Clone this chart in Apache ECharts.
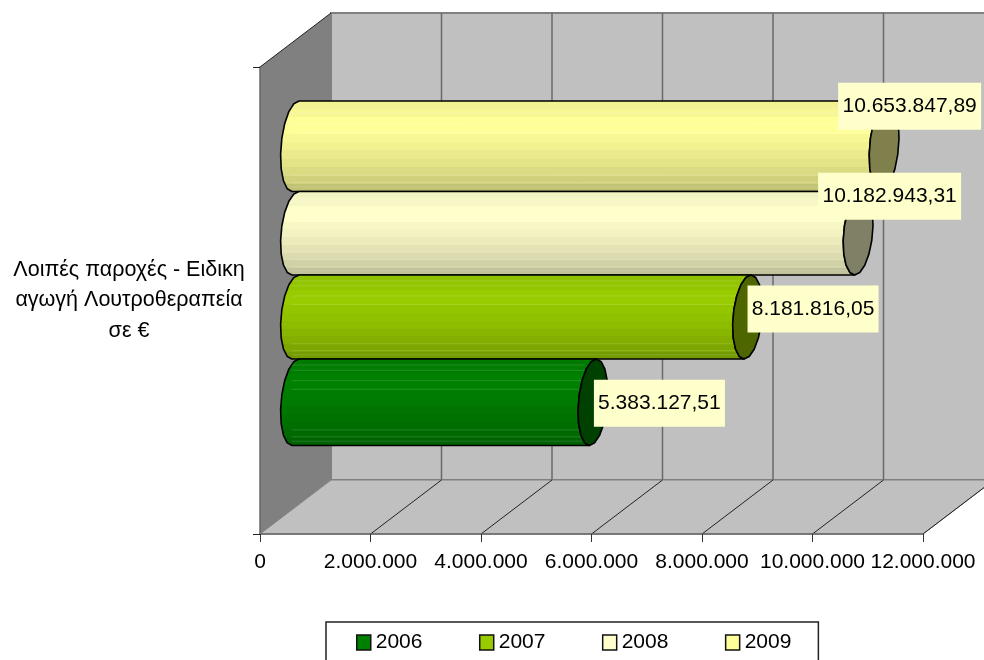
<!DOCTYPE html>
<html>
<head>
<meta charset="utf-8">
<style>html,body{margin:0;padding:0;background:#fff}#chart{width:984px;height:660px}</style>
<script src="https://cdn.jsdelivr.net/npm/echarts@6/dist/echarts.min.js"></script>
</head>
<body>
<div id="chart"></div>
<script>
// Benefit totals per year, in euro
const years = ['2006', '2007', '2008', '2009'];
const amounts = [5383127.51, 8181816.05, 10182943.31, 10653847.89];
const amountLabels = ['5.383.127,51', '8.181.816,05', '10.182.943,31', '10.653.847,89'];
const baseColors = ['#008000', '#99cc00', '#ffffcc', '#ffff99'];
const categories = ['Λοιπές παροχές - Ειδικη\nαγωγή Λουτροθεραπεία\nσε €'];
const xTicks = [0, 2000000, 4000000, 6000000, 8000000, 10000000, 12000000];
const xTickLabels = ['0', '2.000.000', '4.000.000', '6.000.000', '8.000.000', '10.000.000', '12.000.000'];

// Oblique projection of the 3D box
const DEPTH_X = 71, DEPTH_Y = -54;
const FONT = '"Liberation Sans", Arial, sans-serif';
const FONT_SIZE = 21;

// Vertical extent of each cylinder inside the category band, as a fraction of its height
const barSpans = [[0.6831, 0.8683], [0.5032, 0.6831], [0.3244, 0.5032], [0.1306, 0.3244]];
// Label box centre, relative to the end of the cylinder
const labelShift = [[66.5, 1], [65.5, -8], [31.5, -37], [25.5, -40]];
const CAP_RX = 14.5, CAP_SKEW = -3.5, CAP_STEPS = 9;

// Banded shading from the top of a cylinder to its bottom
const shading = [0.95, 0.97, 1, 1, 0.97, 0.95, 0.92, 0.89, 0.86, 0.82, 0.76];
const streaks = [0.07, 0.13, 0.25, 0.35, 0.82, 0.9, 0.95];

function scaleColor(hex, f) {
  const n = parseInt(hex.slice(1), 16);
  const c = [n >> 16, (n >> 8) & 255, n & 255].map(v => Math.round(v * f));
  return 'rgb(' + c.join(',') + ')';
}

function bandedFill(hex) {
  const stops = [];
  shading.forEach((f, i) => {
    const color = scaleColor(hex, f);
    stops.push({ offset: i / shading.length, color });
    stops.push({ offset: (i + 1) / shading.length, color });
  });
  return { type: 'linear', x: 0, y: 0, x2: 0, y2: 1, colorStops: stops };
}

// Points on a slanted ellipse, drawn as a coarse polyline
function capArc(cx, top, bottom, fromT, toT, steps) {
  const cy = (top + bottom) / 2, ry = (bottom - top) / 2, pts = [];
  for (let i = 0; i <= steps; i++) {
    const t = fromT + (toT - fromT) * i / steps;
    pts.push([cx + CAP_RX * Math.cos(t) + CAP_SKEW * Math.sin(t), cy + ry * Math.sin(t)]);
  }
  return pts;
}

function renderWalls(params, api) {
  const g = params.coordSys;
  const x0 = g.x, x1 = g.x + g.width, yTop = g.y, yBot = g.y + g.height;
  const kids = [];
  kids.push({ type: 'polygon', shape: { points: [[x0 + DEPTH_X, yTop + DEPTH_Y], [x1 + DEPTH_X, yTop + DEPTH_Y], [x1 + DEPTH_X, yBot + DEPTH_Y], [x0 + DEPTH_X, yBot + DEPTH_Y]] }, style: { fill: '#c0c0c0', stroke: '#808080', lineWidth: 2 } });
  kids.push({ type: 'polygon', shape: { points: [[x0, yBot], [x0 + DEPTH_X, yBot + DEPTH_Y], [x1 + DEPTH_X, yBot + DEPTH_Y], [x1, yBot]] }, style: { fill: '#c0c0c0', stroke: '#808080', lineWidth: 1 } });
  kids.push({ type: 'polygon', shape: { points: [[x0, yTop], [x0 + DEPTH_X, yTop + DEPTH_Y], [x0 + DEPTH_X, yBot + DEPTH_Y], [x0, yBot]] }, style: { fill: '#808080' } });
  kids.push({ type: 'line', shape: { x1: x0, y1: yTop, x2: x0 + DEPTH_X, y2: yTop + DEPTH_Y }, style: { stroke: '#222', lineWidth: 1 } });
  xTicks.slice(1).forEach(v => {
    const x = api.coord([v, 0])[0];
    kids.push({ type: 'line', shape: { x1: x, y1: yBot, x2: x + DEPTH_X, y2: yBot + DEPTH_Y }, style: { stroke: '#222', lineWidth: 1 } });
    kids.push({ type: 'line', shape: { x1: x + DEPTH_X, y1: yTop + DEPTH_Y, x2: x + DEPTH_X, y2: yBot + DEPTH_Y }, style: { stroke: '#6a6a6a', lineWidth: 1.5 } });
  });
  return { type: 'group', children: kids };
}

function makeCylinderRenderer(idx) {
  return function (params, api) {
    const g = params.coordSys;
    const top = g.y + g.height * barSpans[idx][0] + DEPTH_Y / 2;
    const bottom = g.y + g.height * barSpans[idx][1] + DEPTH_Y / 2;
    const xStart = api.coord([0, 0])[0] + DEPTH_X / 2;
    const xEnd = api.coord([api.value(0), 0])[0] + DEPTH_X / 2;
    const leftArc = capArc(xStart, top, bottom, Math.PI * 1.5, Math.PI * 0.5, CAP_STEPS);
    const endArc = capArc(xEnd, top, bottom, Math.PI * 0.5, -Math.PI * 1.5, CAP_STEPS * 2);
    const kids = [];
    kids.push({
      type: 'polygon',
      shape: { points: leftArc.concat(capArc(xEnd, top, bottom, Math.PI * 0.5, Math.PI * 1.5, CAP_STEPS)) },
      style: { fill: bandedFill(baseColors[idx]), stroke: '#000', lineWidth: 1.6, lineJoin: 'round' }
    });
    streaks.forEach(f => {
      const y = top + (bottom - top) * f;
      kids.push({ type: 'line', shape: { x1: xStart - 4, y1: y, x2: xEnd - 8, y2: y }, style: { stroke: 'rgba(255,255,255,0.14)', lineWidth: 1 } });
    });
    kids.push({
      type: 'polygon',
      shape: { points: endArc },
      style: { fill: scaleColor(baseColors[idx], 0.5), stroke: '#000', lineWidth: 1.6, lineJoin: 'round' }
    });
    return { type: 'group', children: kids };
  };
}

// Value labels sit above every cylinder, in their own layer
function renderLabel(params, api) {
  const i = params.dataIndex, g = params.coordSys;
  const xEnd = api.coord([api.value(0), 0])[0] + DEPTH_X / 2;
  const cx = xEnd + labelShift[i][0];
  const mid = g.y + g.height * (barSpans[i][0] + barSpans[i][1]) / 2 + DEPTH_Y / 2;
  const cy = mid + labelShift[i][1];
  const w = amountLabels[i].length > 12 ? 143 : 131;
  return {
    type: 'group',
    children: [
      { type: 'rect', shape: { x: cx - w / 2, y: cy - 23.5, width: w, height: 47 }, style: { fill: '#ffffcc' } },
      { type: 'text', style: { x: cx, y: cy, text: amountLabels[i], align: 'center', verticalAlign: 'middle', fill: '#000', font: FONT_SIZE + 'px ' + FONT } }
    ]
  };
}

const series = [
  { type: 'custom', name: 'walls', z: 1, silent: true, renderItem: renderWalls, data: [[0, 0]], encode: { x: 0, y: 1 } }
];
// Upper cylinders are painted first so the lower ones overlap their edges
for (let i = years.length - 1; i >= 0; i--) {
  series.push({
    type: 'custom',
    name: years[i],
    z: 6 - i,
    itemStyle: { color: baseColors[i] },
    renderItem: makeCylinderRenderer(i),
    data: [[amounts[i], 0]],
    encode: { x: 0, y: 1 }
  });
}
series.push({
  type: 'custom',
  name: 'labels',
  z: 10,
  renderItem: renderLabel,
  data: amounts.map(v => [v, 0]),
  encode: { x: 0, y: 1 }
});

const chart = echarts.init(document.getElementById('chart'), null, { renderer: 'canvas' });
chart.setOption({
  animation: false,
  backgroundColor: '#fff',
  textStyle: { fontFamily: FONT },
  grid: { left: 260, top: 67, width: 663, height: 467 },
  xAxis: {
    type: 'value',
    min: 0,
    max: 12000000,
    interval: 2000000,
    z: 3,
    axisLine: { show: true, onZero: false, lineStyle: { color: '#666', width: 1.5 } },
    axisTick: { show: true, length: 8, lineStyle: { color: '#333', width: 1 } },
    splitLine: { show: false },
    axisLabel: {
      color: '#000',
      fontSize: FONT_SIZE,
      fontFamily: FONT,
      margin: 18,
      hideOverlap: false,
      formatter: (v) => xTickLabels[xTicks.indexOf(v)]
    }
  },
  yAxis: {
    type: 'category',
    data: categories,
    z: 3,
    axisLine: { show: true, lineStyle: { color: '#666', width: 1.5 } },
    axisTick: { show: true, length: 7, lineStyle: { color: '#222', width: 1 } },
    axisLabel: { color: '#000', fontSize: 21.5, fontFamily: FONT, lineHeight: 30.5, align: 'center', margin: 131, padding: [6, 0, 0, 0] }
  },
  legend: {
    left: 326,
    top: 622,
    data: years,
    icon: 'rect',
    itemWidth: 14,
    itemHeight: 15,
    itemGap: 56.5,
    padding: [10, 27, 14, 30],
    backgroundColor: '#fff',
    borderColor: '#222',
    borderWidth: 1.5,
    borderRadius: 0,
    selectedMode: false,
    itemStyle: { borderColor: '#111', borderWidth: 1.5 },
    textStyle: { color: '#000', fontSize: FONT_SIZE, fontFamily: FONT, padding: [0, 0, 4, 0] }
  },
  tooltip: { show: false },
  series
});
</script>
</body>
</html>
